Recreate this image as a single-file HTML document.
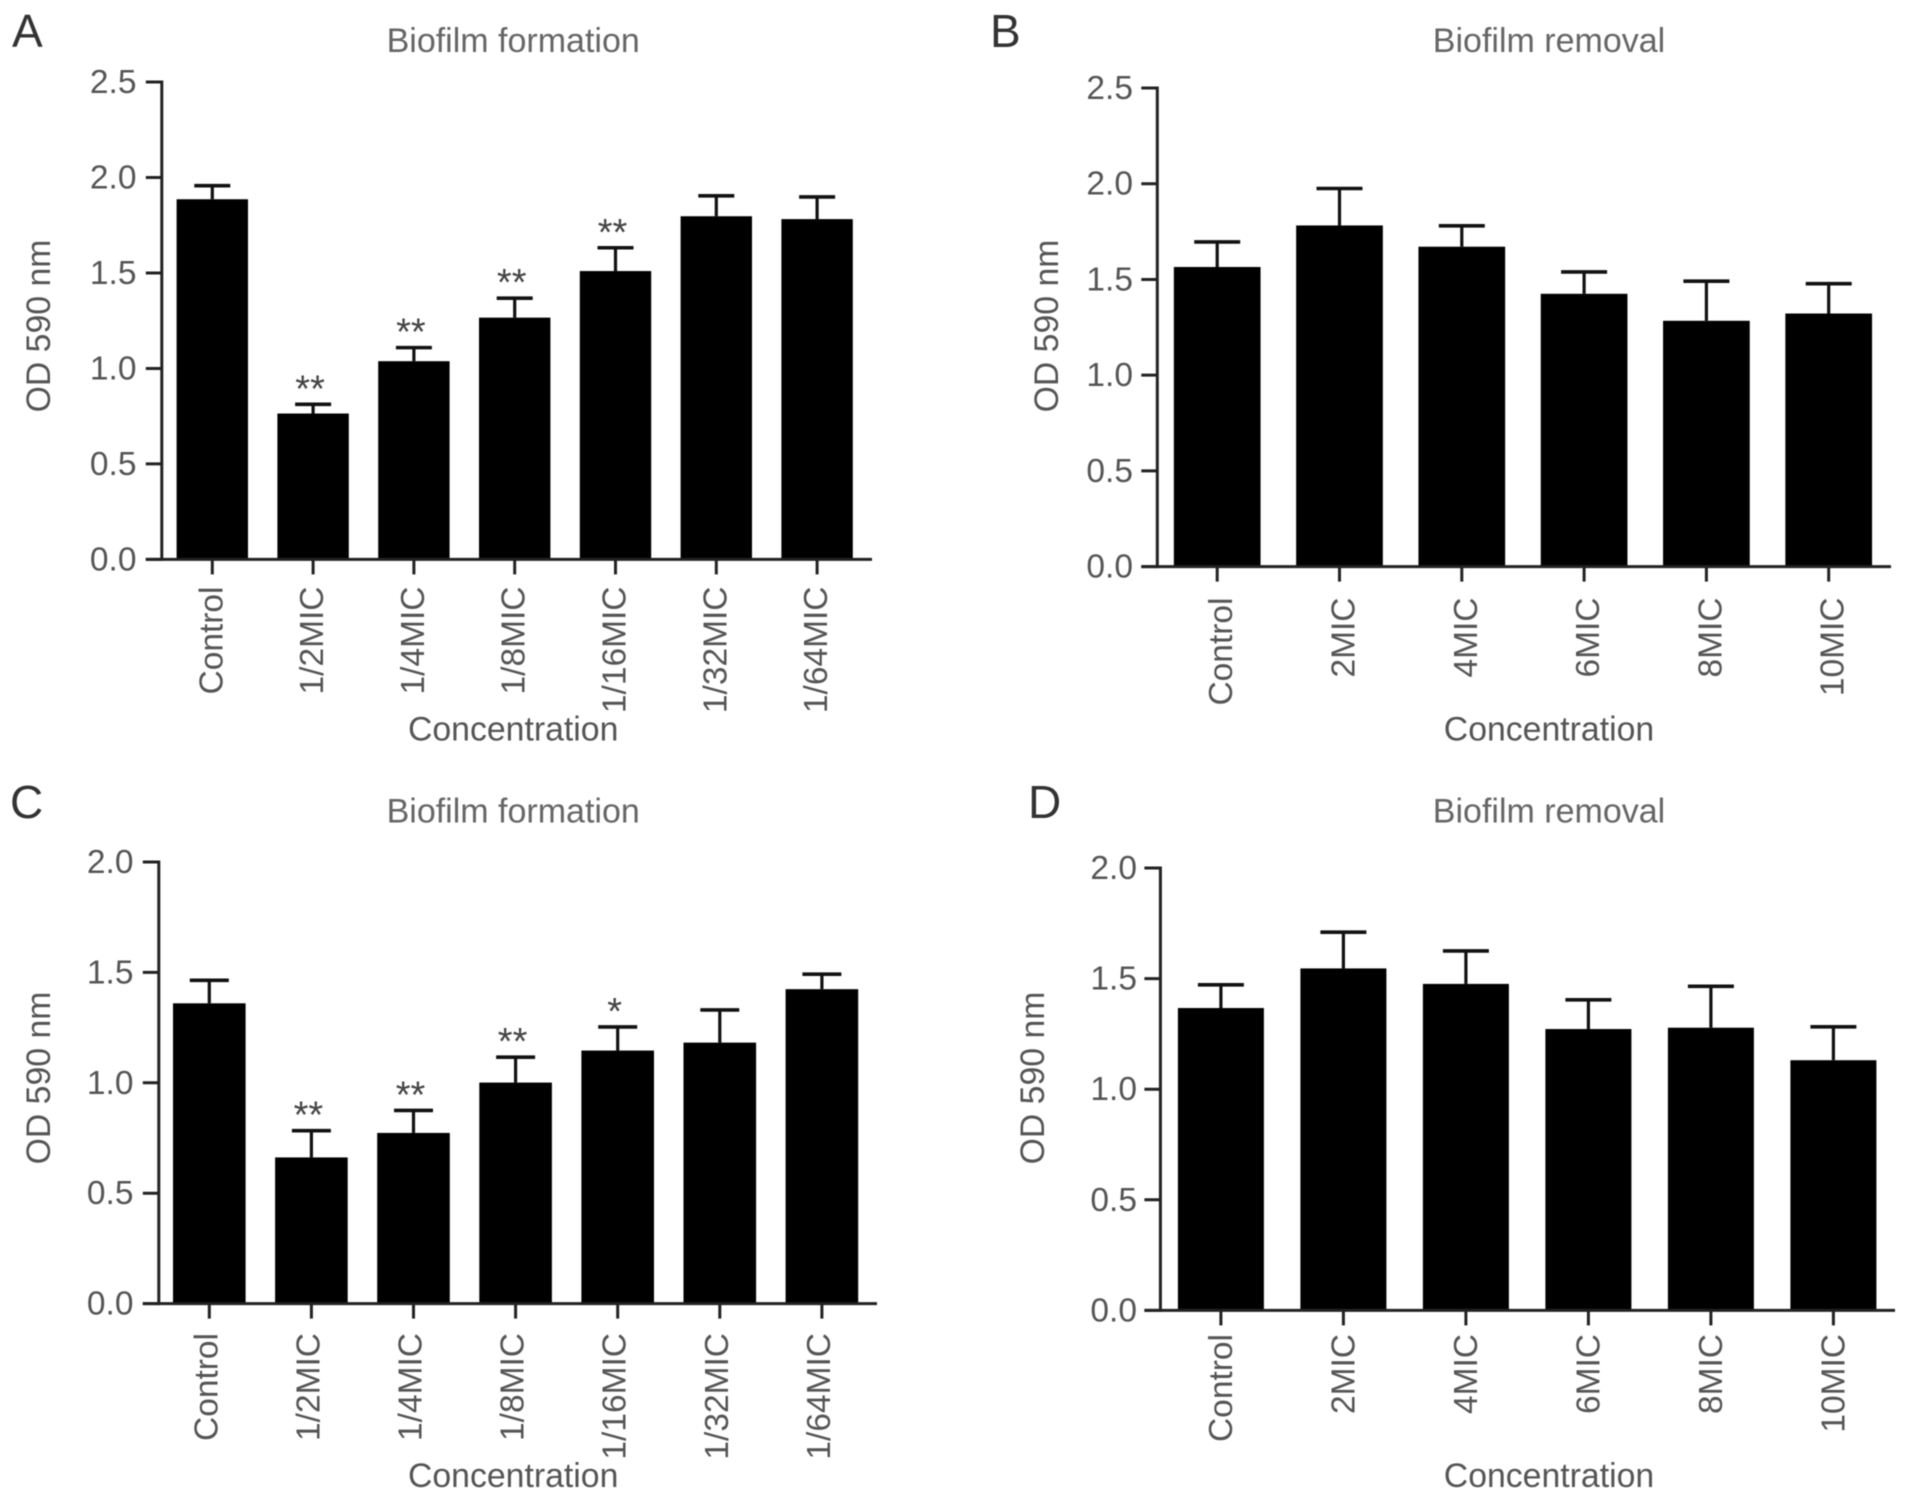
<!DOCTYPE html>
<html lang="en">
<head>
<meta charset="utf-8">
<title>Biofilm formation and removal bar charts</title>
<style>
html,body{margin:0;padding:0;background:#fff;}
#figure{display:block;width:1913px;height:1499px;filter:blur(0.55px);font-family:"Liberation Sans",Arial,sans-serif;}
</style>
</head>
<body>
<svg id="figure" xmlns="http://www.w3.org/2000/svg" width="1913" height="1499" viewBox="0 0 1913 1499"></svg>
<script>
// Panel A data
const aCategories = ['Control','1/2MIC','1/4MIC','1/8MIC','1/16MIC','1/32MIC','1/64MIC'];
const aValues = [1.886,0.764,1.038,1.266,1.51,1.797,1.782];
const aErrors = [0.071,0.048,0.071,0.102,0.122,0.107,0.116];
const aStars = ['','**','**','**','**','',''];
const aTicks = ['0.0','0.5','1.0','1.5','2.0','2.5'];

// Panel B data
const bCategories = ['Control','2MIC','4MIC','6MIC','8MIC','10MIC'];
const bValues = [1.565,1.782,1.671,1.425,1.284,1.322];
const bErrors = [0.131,0.193,0.109,0.114,0.207,0.156];
const bStars = ['','','','','',''];
const bTicks = ['0.0','0.5','1.0','1.5','2.0','2.5'];

// Panel C data
const cCategories = ['Control','1/2MIC','1/4MIC','1/8MIC','1/16MIC','1/32MIC','1/64MIC'];
const cValues = [1.36,0.662,0.773,1.001,1.146,1.182,1.424];
const cErrors = [0.104,0.121,0.102,0.115,0.107,0.148,0.068];
const cStars = ['','**','**','**','*','',''];
const cTicks = ['0.0','0.5','1.0','1.5','2.0'];

// Panel D data
const dCategories = ['Control','2MIC','4MIC','6MIC','8MIC','10MIC'];
const dValues = [1.367,1.546,1.476,1.272,1.278,1.131];
const dErrors = [0.105,0.164,0.149,0.132,0.187,0.151];
const dStars = ['','','','','',''];
const dTicks = ['0.0','0.5','1.0','1.5','2.0'];

const svg = document.getElementById('figure');
const NS = 'http://www.w3.org/2000/svg';

function make(parent, tag, attrs, content) {
  const el = document.createElementNS(NS, tag);
  for (const k in attrs) el.setAttribute(k, attrs[k]);
  if (content !== undefined) el.textContent = content;
  parent.appendChild(el);
  return el;
}

function drawPanel(p) {
  const g = make(svg, 'g', {});
  
  

  const maxV = parseFloat(p.ticks[p.ticks.length - 1]);
  const yScale = function (v) { return p.zeroY + (p.topY - p.zeroY) * v / maxV; };
  const xScale = function (i) { return p.firstX + p.stepX * i; };

  const letter = make(g, 'text', {x: p.letterX, y: p.letterY, 'font-size': 46, fill: '#333'}, p.id);
  
  

  const title = make(g, 'text', {x: p.centerX, y: p.titleY, 'font-size': 34, fill: '#666', 'text-anchor': 'middle'}, p.title);
  
  

  p.categories.forEach(function (cat, i) {
    const x = xScale(i);
    const bar = make(g, 'rect', {x: x - p.barW / 2, y: yScale(p.values[i]), width: p.barW, height: p.zeroY - yScale(p.values[i]), fill: '#000'});
    
    

    const top = yScale(p.values[i] + p.errors[i]);
    const stem = make(g, 'line', {x1: x, x2: x, y1: yScale(p.values[i]), y2: top, stroke: '#111', 'stroke-width': 3.2});
    
    

    const cap = make(g, 'line', {x1: x - p.capW / 2, x2: x + p.capW / 2, y1: top, y2: top, stroke: '#111', 'stroke-width': 3.6});
    
    

    if (p.stars[i]) {
      const star = make(g, 'text', {x: x - 3, y: top - 3, 'font-size': 38, fill: '#444', 'text-anchor': 'middle'}, p.stars[i]);
      
      
    }

    const tick = make(g, 'line', {x1: x, x2: x, y1: p.zeroY, y2: p.zeroY + 15, stroke: '#222', 'stroke-width': 3});
    
    

    const bx = x + p.labelDx;
    const label = make(g, 'text', {x: bx, y: p.labelTop, 'font-size': 33.5, fill: '#555', 'text-anchor': 'end', transform: 'rotate(-90 ' + bx + ' ' + p.labelTop + ')'}, cat);
    
    
  });

  p.ticks.forEach(function (t) {
    const y = yScale(parseFloat(t));
    const tick = make(g, 'line', {x1: p.axisX - 16, x2: p.axisX, y1: y, y2: y, stroke: '#222', 'stroke-width': 3});
    
    

    const label = make(g, 'text', {x: p.tickRight, y: y + 11, 'font-size': 33.5, fill: '#555', 'text-anchor': 'end'}, t);
    
    
  });

  const yAxis = make(g, 'line', {x1: p.axisX, x2: p.axisX, y1: p.topY - 1.5, y2: p.zeroY + 1.5, stroke: '#222', 'stroke-width': 3});
  
  

  const xAxis = make(g, 'line', {x1: p.axisX - 16, x2: p.axisEnd, y1: p.zeroY, y2: p.zeroY, stroke: '#222', 'stroke-width': 3});
  
  

  const yTitle = make(g, 'text', {x: p.yTitleX, y: p.yTitleY, 'font-size': 33.8, fill: '#555', 'text-anchor': 'middle', transform: 'rotate(-90 ' + p.yTitleX + ' ' + p.yTitleY + ')'}, 'OD 590 nm');
  
  

  const xTitle = make(g, 'text', {x: p.centerX, y: p.xTitleY, 'font-size': 33.8, fill: '#555', 'text-anchor': 'middle'}, 'Concentration');
  
  
}

drawPanel({id: 'A', title: 'Biofilm formation',
  categories: aCategories, values: aValues, errors: aErrors, stars: aStars, ticks: aTicks,
  axisX: 161.8, axisEnd: 872, topY: 82, zeroY: 559.4, firstX: 212.3, stepX: 100.8, barW: 71.4, capW: 36,
  labelDx: 10, labelTop: 586.5, tickRight: 136.5, yTitleX: 50, yTitleY: 326,
  centerX: 513.2, titleY: 52, xTitleY: 740.5, letterX: 12, letterY: 47});

drawPanel({id: 'B', title: 'Biofilm removal',
  categories: bCategories, values: bValues, errors: bErrors, stars: bStars, ticks: bTicks,
  axisX: 1157.3, axisEnd: 1891, topY: 88, zeroY: 566.6, firstX: 1217.2, stepX: 122.3, barW: 86.7, capW: 46,
  labelDx: 15, labelTop: 597.5, tickRight: 1133, yTitleX: 1058, yTitleY: 326,
  centerX: 1549, titleY: 52, xTitleY: 740.5, letterX: 990, letterY: 47});

drawPanel({id: 'C', title: 'Biofilm formation',
  categories: cCategories, values: cValues, errors: cErrors, stars: cStars, ticks: cTicks,
  axisX: 158.8, axisEnd: 877, topY: 862, zeroY: 1303.6, firstX: 209.3, stepX: 102.1, barW: 72.6, capW: 39,
  labelDx: 8, labelTop: 1333, tickRight: 133.5, yTitleX: 50, yTitleY: 1078,
  centerX: 513.2, titleY: 822.5, xTitleY: 1487, letterX: 10, letterY: 818});

drawPanel({id: 'D', title: 'Biofilm removal',
  categories: dCategories, values: dValues, errors: dErrors, stars: dStars, ticks: dTicks,
  axisX: 1160.4, axisEnd: 1895, topY: 868, zeroY: 1310.4, firstX: 1220.9, stepX: 122.5, barW: 86, capW: 46,
  labelDx: 11, labelTop: 1334, tickRight: 1137, yTitleX: 1044, yTitleY: 1078,
  centerX: 1549, titleY: 822.5, xTitleY: 1487, letterX: 1028, letterY: 818});
</script>
</body>
</html>
